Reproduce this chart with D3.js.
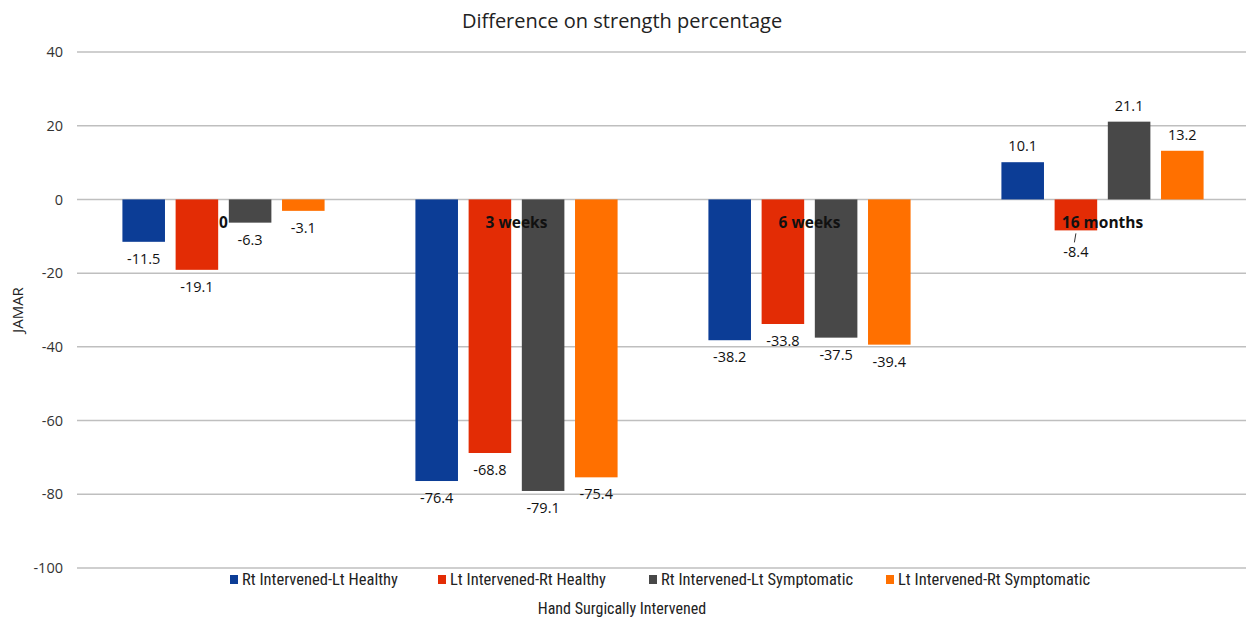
<!DOCTYPE html>
<html>
<head>
<meta charset="utf-8">
<script src="https://cdn.jsdelivr.net/npm/d3@7"></script>
<style>
  body { margin: 0; background: #fff; }
  svg { display: block; }
</style>
</head>
<body>
<div id="chart"></div>
<script>
// data
var categories = ["0", "3 weeks", "6 weeks", "16 months"];
var seriesNames = ["Rt Intervened-Lt Healthy", "Lt Intervened-Rt Healthy",
                   "Rt Intervened-Lt Symptomatic", "Lt Intervened-Rt Symptomatic"];
var rtLtHealthy = [-11.5, -76.4, -38.2, 10.1];
var ltRtHealthy = [-19.1, -68.8, -33.8, -8.4];
var rtLtSymptomatic = [-6.3, -79.1, -37.5, 21.1];
var ltRtSymptomatic = [-3.1, -75.4, -39.4, 13.2];
var yTicks = [40, 20, 0, -20, -40, -60, -80, -100];

var colors = ["#0c3d96", "#e32c05", "#484848", "#ff7000"];
var seriesValues = [rtLtHealthy, ltRtHealthy, rtLtSymptomatic, ltRtSymptomatic];

var mainFont = "'Open Sans', 'Noto Sans', sans-serif";
var narrowFont = "'Liberation Sans Narrow', 'Roboto Condensed', sans-serif";

var W = 1246, H = 621;
var svg = d3.select("#chart").append("svg")
    .attr("width", W).attr("height", H);

var x0 = d3.scaleBand().domain(categories).range([77, 1249]).padding(0);
var bw = x0.bandwidth();
var x1 = d3.scaleBand().domain(seriesNames)
    .range([bw * 0.155, bw * 0.845]).paddingInner(0.2).paddingOuter(0);
var y = d3.scaleLinear().domain([-100, 40]).range([568, 52]);

// gridlines
svg.append("g").selectAll("line")
  .data(yTicks).enter().append("line")
    .attr("x1", 77).attr("x2", W)
    .attr("y1", function(d) { return y(d); })
    .attr("y2", function(d) { return y(d); })
    .attr("stroke", "#bfbfbf").attr("stroke-width", 1.5);

// y axis labels (plain hyphen for the minus, like the original)
var yAxis = svg.append("g")
    .attr("transform", "translate(63,0)")
    .call(d3.axisLeft(y).tickValues(yTicks).tickSize(0).tickPadding(0)
      .tickFormat(function(d) { return String(d); }));
yAxis.select(".domain").remove();
yAxis.selectAll("text")
    .attr("font-family", mainFont)
    .attr("font-size", 14.5).attr("fill", "#333");

// bars
var rows = [];
categories.forEach(function(c, i) {
  seriesNames.forEach(function(s, j) {
    rows.push({cat: c, series: s, value: seriesValues[j][i], color: colors[j]});
  });
});

var groups = svg.append("g");
groups.selectAll("rect")
  .data(rows).enter().append("rect")
    .attr("x", function(d) { return x0(d.cat) + x1(d.series); })
    .attr("y", function(d) { return y(Math.max(0, d.value)); })
    .attr("width", x1.bandwidth())
    .attr("height", function(d) { return Math.abs(y(d.value) - y(0)); })
    .attr("fill", function(d) { return d.color; });

// data labels
groups.selectAll("text.val")
  .data(rows).enter().append("text")
    .attr("class", "val")
    .attr("x", function(d) { return x0(d.cat) + x1(d.series) + x1.bandwidth() / 2; })
    .attr("y", function(d) {
      if (d.value >= 0) return y(d.value) - 11;
      if (d.cat == "16 months") return y(d.value) + 27;
      return y(d.value) + 22;
    })
    .attr("text-anchor", "middle")
    .attr("font-family", mainFont)
    .attr("font-size", 14.5).attr("fill", "#111")
    .text(function(d) { return d.value; });

// leader line for the -8.4 label
var lead = rows.filter(function(d) { return d.cat == "16 months" && d.value < 0; })[0];
var lx = x0(lead.cat) + x1(lead.series) + x1.bandwidth() / 2;
svg.append("line")
    .attr("x1", lx).attr("x2", lx - 1.5)
    .attr("y1", y(lead.value) + 3).attr("y2", y(lead.value) + 12)
    .attr("stroke", "#333").attr("stroke-width", 1);

// category labels sitting next to the zero line
svg.append("g").selectAll("text")
  .data(categories).enter().append("text")
    .attr("x", function(d) { return x0(d) + bw / 2; })
    .attr("y", y(0) + 29)
    .attr("text-anchor", "middle")
    .attr("font-family", mainFont)
    .attr("font-weight", "bold")
    .attr("font-size", 15.5).attr("fill", "#111")
    .text(function(d) { return d; });

// title
svg.append("text")
    .attr("x", 622).attr("y", 28)
    .attr("text-anchor", "middle")
    .attr("font-family", mainFont)
    .attr("font-size", 20).attr("fill", "#222")
    .text("Difference on strength percentage");

// y title
svg.append("text")
    .attr("transform", "translate(23,310) rotate(-90)")
    .attr("text-anchor", "middle")
    .attr("font-family", mainFont)
    .attr("font-size", 15).attr("fill", "#222")
    .text("JAMAR");

// x title
svg.append("text")
    .attr("x", 622).attr("y", 614)
    .attr("text-anchor", "middle")
    .attr("font-family", narrowFont)
    .attr("font-size", 16).attr("fill", "#222")
    .text("Hand Surgically Intervened");

// legend
var legendX = [230, 438, 649, 886];
var legend = svg.append("g").selectAll("g")
  .data(seriesNames).enter().append("g")
    .attr("transform", function(d, i) { return "translate(" + legendX[i] + ",580)"; });
legend.append("rect")
    .attr("x", 0).attr("y", -5).attr("width", 8).attr("height", 9)
    .attr("fill", function(d, i) { return colors[i]; });
legend.append("text")
    .attr("x", 12).attr("y", 5)
    .attr("font-family", narrowFont)
    .attr("font-size", 16.5).attr("fill", "#222")
    .text(function(d) { return d; });
</script>
</body>
</html>
